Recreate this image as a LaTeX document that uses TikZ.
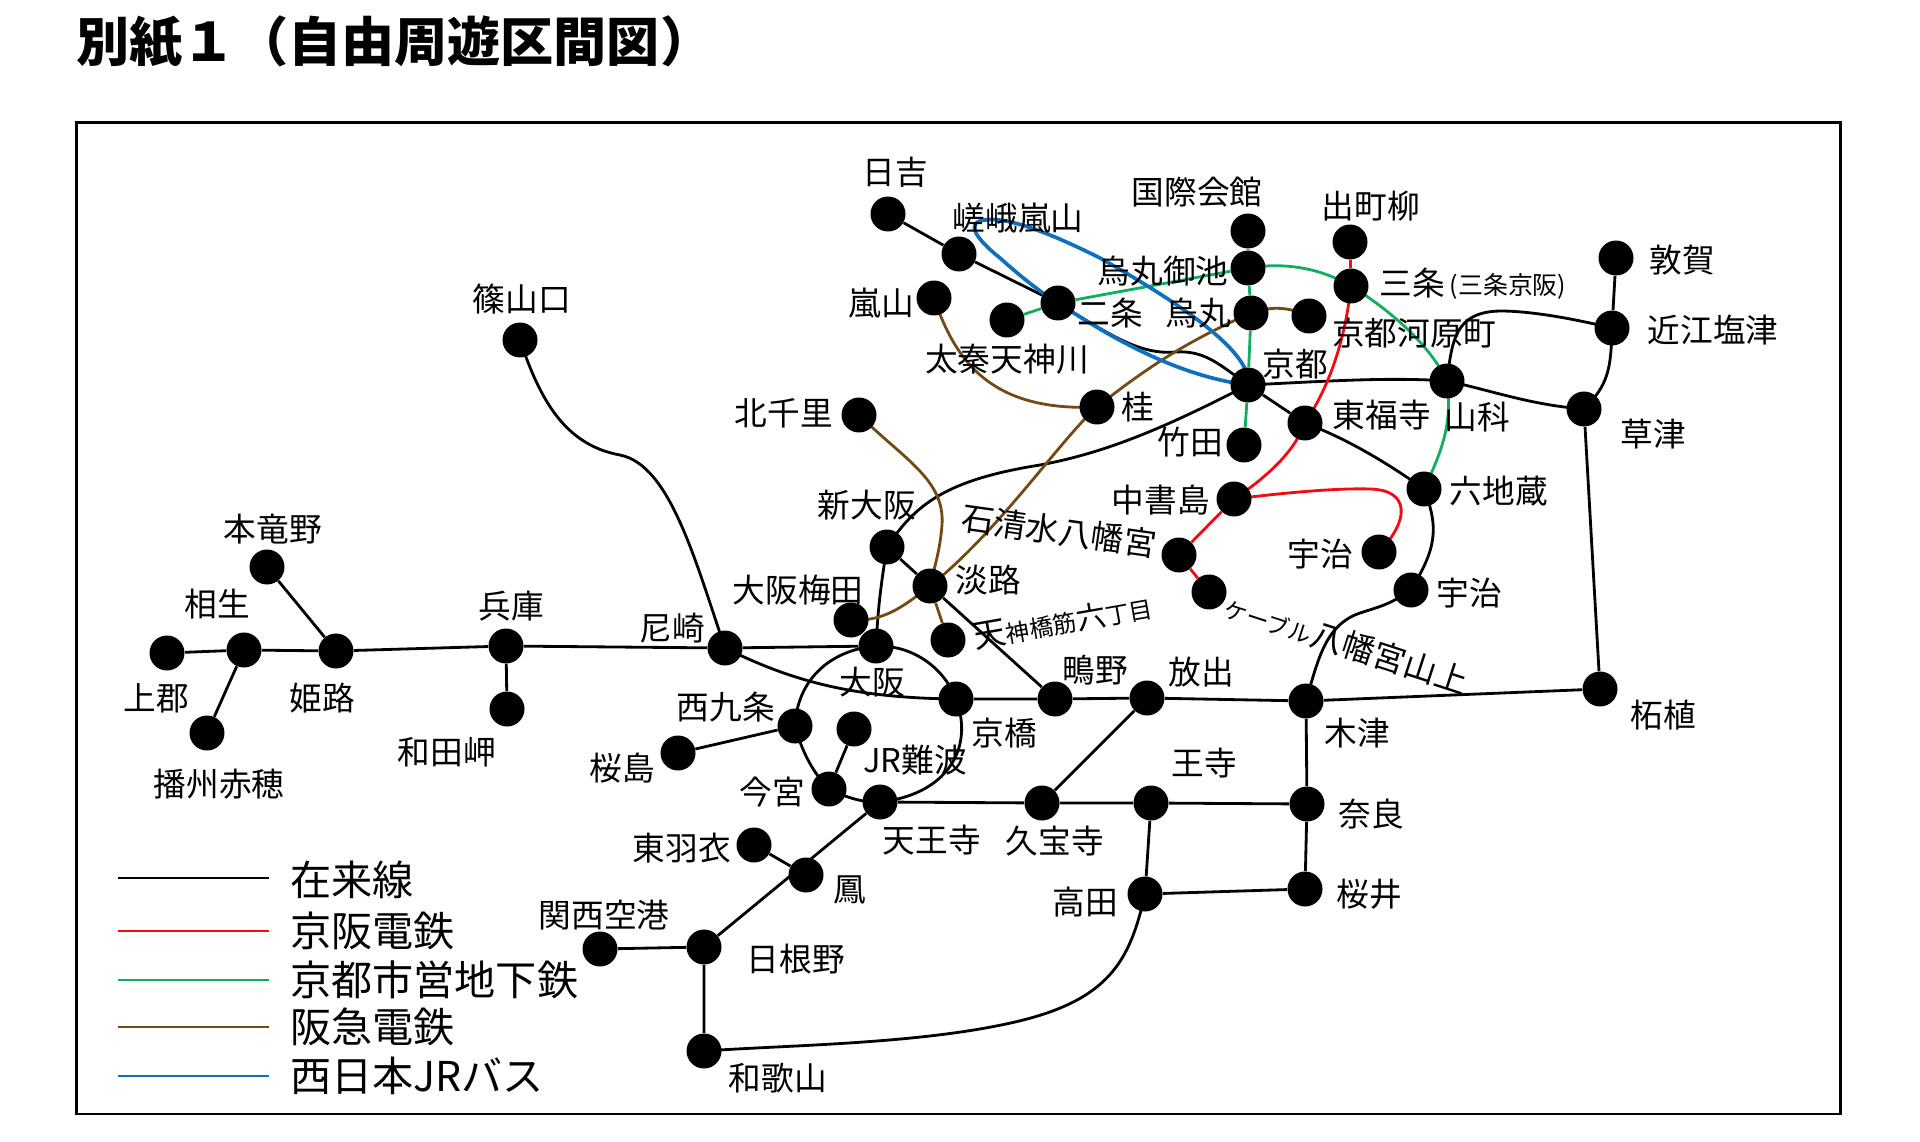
\documentclass[tikz,border=0pt]{standalone}
\usepackage{fontspec}
\setmainfont{Noto Sans CJK JP}
\usetikzlibrary{backgrounds}
\definecolor{kred}{HTML}{F40A14}
\definecolor{kgreen}{HTML}{12AE5E}
\definecolor{hbrown}{HTML}{744A14}
\definecolor{jblue}{HTML}{0F70BE}
\newcommand{\fs}[1]{\fontsize{#1}{#1}\selectfont}
\tikzset{
  st/.style={circle,fill=black,inner sep=0pt,minimum size=0.7cm},
  lb/.style={inner sep=0pt,font=\fs{18.6},text=black},
  lg/.style={inner sep=0pt,anchor=west,font=\fs{23.4},text=black},
  jr/.style={draw=black,line width=1.6pt,line join=round},
  ke/.style={draw=kred,line width=1.6pt,line join=round},
  sub/.style={draw=kgreen,line width=1.6pt,line join=round},
  hk/.style={draw=hbrown,line width=1.6pt,line join=round},
  bus/.style={draw=jblue,line width=2.1pt,line join=round},
  lgl/.style={line width=1.1pt},
}
\begin{document}
\begin{tikzpicture}[x=0.02cm,y=-0.02cm]
\useasboundingbox (0,0) rectangle (1920,1142);
\node[inner sep=0pt,anchor=west,font=\fs{30.2}\bfseries] (title) at (76,42) {別紙１（自由周遊区間図）};
\node[draw=black,line width=1.6pt,inner sep=0pt,minimum width=35.3cm,minimum height=19.84cm] (frame) at (958.5,618) {};
% stations
\foreach \n/\x/\y in {
hiyoshi/888/214,saga/959/254,nijo/1058/303,uzu/1007/320,arashi/934/298,
kokusai/1248/231,oike/1248/268,karasuma/1251/313,kawara/1309/316,kyoto/1248/385,
katsura/1097/407,kita/859/415,takeda/1244/445,tofuku/1305/423,demachi/1350/242,
sanjo/1351/286,yamashina/1447/381,omi/1612/328,tsuruga/1616/258,kusatsu/1584/409,
roku/1424/489,chusho/1234/499,iwashi/1179/555,cable/1209/592,ujik/1379/552,
uji/1411/590,kizu/1306/701,hanaten/1147/698,shinosaka/887/547,awaji/930/586,
umeda/851/620,osaka/876/646,tenroku/948/640,kyobashi/956/699,shigino/1055/699,
amagasaki/725/648,nishikujo/795/726,namba/854/729,sakura/678/753,imamiya/829/789,
tennoji/880/802,higashi/754/845,otori/806/875,hineno/704/947,kanku/600/949,
wakayama/704/1051,kyuhoji/1042/803,oji/1151/803,nara/1307/804,sakurai/1305/889,
takada/1145/894,tsuge/1600/689,hyogo/506/646,wada/507/709,himeji/336/651,
tatsuno/267/567,aioi/244/650,kamigori/167/653,ako/207/733,sasayama/520/340}
  {\node[st] (\n) at (\x,\y) {};}
\begin{scope}[on background layer]
% JR straight
\draw[jr] (hiyoshi)--(saga) (saga)--(nijo) (kyoto)--(tofuku)
 (omi)--(tsuruga) (kusatsu)--(tsuge) (shinosaka)--(awaji) (awaji)--(shigino)
 (amagasaki)--(osaka) (amagasaki)--(hyogo) (hyogo)--(himeji) (himeji)--(aioi) (aioi)--(kamigori)
 (aioi)--(ako) (himeji)--(tatsuno) (hyogo)--(wada) (nishikujo)--(sakura) (imamiya)--(namba)
 (tennoji)--(kyuhoji) (kyuhoji)--(oji) (oji)--(nara) (kyuhoji)--(hanaten)
 (kyobashi)--(shigino) (shigino)--(hanaten) (hanaten)--(kizu) (kizu)--(tsuge)
 (kizu)--(nara) (nara)--(sakurai) (oji)--(takada) (takada)--(sakurai)
 (tennoji)--(hineno) (otori)--(higashi) (hineno)--(wakayama) (hineno)--(kanku);
% JR curves
\draw[jr] (nijo.center) .. controls (1110,335) and (1140,355) .. (1175,352) .. controls (1205,350) and (1220,365) .. (kyoto.center);
\draw[jr] (kyoto.center) .. controls (1330,381) and (1390,377) .. (yamashina.center);
\draw[jr] (yamashina.center) .. controls (1490,390) and (1530,405) .. (kusatsu.center);
\draw[jr] (yamashina.center) .. controls (1452,340) and (1455,312) .. (1500,311) .. controls (1530,311) and (1570,318) .. (omi.center);
\draw[jr] (omi.center) .. controls (1611,370) and (1608,385) .. (kusatsu.center);
\draw[jr] (tofuku.center) .. controls (1350,440) and (1390,465) .. (roku.center);
\draw[jr] (roku.center) .. controls (1440,530) and (1435,550) .. (uji.center);
\draw[jr] (kizu.center) .. controls (1318,660) and (1325,625) .. (1360,613) .. controls (1375,608) and (1390,605) .. (uji.center);
\draw[jr] (shinosaka.center) .. controls (915,505) and (945,480) .. (1040,465) .. controls (1110,452) and (1170,425) .. (kyoto.center);
\draw[jr] (shinosaka.center) .. controls (880,590) and (878,610) .. (osaka.center);
\draw[jr] (sasayama.center) .. controls (540,400) and (565,445) .. (620,455) .. controls (670,465) and (695,560) .. (amagasaki.center);
\draw[jr] (amagasaki.center) .. controls (790,680) and (850,698) .. (kyobashi.center);
\draw[jr] (osaka.center) .. controls (915,645) and (945,670) .. (kyobashi.center);
\draw[jr] (osaka.center) .. controls (830,650) and (797,680) .. (nishikujo.center);
\draw[jr] (nishikujo.center) .. controls (800,745) and (810,770) .. (imamiya.center);
\draw[jr] (imamiya.center) .. controls (845,797) and (863,803) .. (tennoji.center);
\draw[jr] (kyobashi.center) .. controls (975,750) and (945,795) .. (tennoji.center);
\draw[jr] (takada.center) .. controls (1130,960) and (1110,1000) .. (1015,1022) .. controls (920,1044) and (790,1045) .. (wakayama.center);
% Keihan
\draw[ke] (demachi)--(sanjo) (chusho)--(iwashi) (iwashi)--(cable);
\draw[ke] (sanjo.center) .. controls (1345,340) and (1330,385) .. (tofuku.center);
\draw[ke] (tofuku.center) .. controls (1295,450) and (1270,475) .. (chusho.center);
\draw[ke] (chusho.center) .. controls (1290,492) and (1340,488) .. (1370,489) .. controls (1410,490) and (1410,520) .. (ujik.center);
% Subway
\draw[sub] (kokusai)--(oike) (oike)--(karasuma) (karasuma)--(kyoto) (kyoto)--(takeda) (uzu)--(nijo) (nijo)--(oike);
\draw[sub] (oike.center) .. controls (1285,262) and (1320,268) .. (sanjo.center);
\draw[sub] (sanjo.center) .. controls (1390,310) and (1430,345) .. (yamashina.center);
\draw[sub] (yamashina.center) .. controls (1452,420) and (1445,445) .. (roku.center);
% Hankyu
\draw[hk] (karasuma.center) .. controls (1275,305) and (1290,308) .. (kawara.center);
\draw[hk] (karasuma.center) .. controls (1190,340) and (1150,365) .. (katsura.center);
\draw[hk] (katsura.center) .. controls (1060,440) and (1000,530) .. (awaji.center);
\draw[hk] (awaji.center) .. controls (905,605) and (885,622) .. (umeda.center);
\draw[hk] (arashi.center) .. controls (955,360) and (990,412) .. (katsura.center);
\draw[hk] (kita.center) .. controls (905,460) and (945,480) .. (942,525) .. controls (940,550) and (935,565) .. (awaji.center);
\draw[hk] (awaji)--(tenroku);
% Bus
\draw[bus] (kyoto.center) .. controls (1252,360) and (1210,320) .. (1100,258) .. controls (1060,238) and (1010,216) .. (985,220) .. controls (965,222) and (975,238) .. (1000,258) .. controls (1020,276) and (1040,292) .. (nijo.center);
\draw[bus] (nijo.center) .. controls (1100,330) and (1170,375) .. (kyoto.center);
% Legend lines
\coordinate (g1a) at (118,878); \coordinate (g1b) at (269,878);
\coordinate (g2a) at (118,931); \coordinate (g2b) at (269,931);
\coordinate (g3a) at (118,980); \coordinate (g3b) at (269,980);
\coordinate (g4a) at (118,1027); \coordinate (g4b) at (269,1027);
\coordinate (g5a) at (118,1076); \coordinate (g5b) at (269,1076);
\draw[jr,lgl] (g1a)--(g1b);
\draw[ke,lgl] (g2a)--(g2b);
\draw[sub,lgl] (g3a)--(g3b);
\draw[hk,lgl] (g4a)--(g4b);
\draw[bus,lgl] (g5a)--(g5b);
\end{scope}
% labels
\foreach \n/\x/\y/\t in {
l1/895/172/日吉,l2/1018/218/嵯峨嵐山,l3/1197/192/国際会館,l4/1371/206/出町柳,
l5/1163/271/烏丸御池,l6/881/303/嵐山,l7/1110/313/二条,l8/1198/313/烏丸,
l9/1007/359/太秦天神川,l10/1295/364/京都,l11/1138/407/桂,l12/1190/442/竹田,
l13/1412/283/三条,l14/1682/260/敦賀,l15/1713/330/近江塩津,l16/1414/333/京都河原町,
l17/1477/417/山科,l18/1382/415/東福寺,l19/1653/434/草津,l20/1499/491/六地蔵,
l21/784/413/北千里,l22/867/505/新大阪,l23/1161/500/中書島,l24/988/580/淡路,
l25/798/590/大阪梅田,l26/1095/670/鴫野,l27/1201/672/放出,l28/1004/733/京橋,
l29/872/682/大阪,l30/726/707/西九条,l31/622/768/桜島,l32/915/760/JR難波,
l33/772/792/今宮,l34/932/840/天王寺,l35/1055/841/久宝寺,l36/1204/763/王寺,
l37/1371/814/奈良,l38/1369/894/桜井,l39/1085/902/高田,l40/1357/733/木津,
l41/1663/715/柘植,l42/1320/554/宇治,l43/1469/593/宇治,l44/682/848/東羽衣,
l45/850/890/鳳,l46/604/915/関西空港,l47/796/959/日根野,l48/778/1078/和歌山,
l49/672/628/尼崎,l50/511/606/兵庫,l51/447/752/和田岬,l52/322/698/姫路,
l53/217/604/相生,l54/273/529/本竜野,l55/156/698/上郡,l56/219/784/播州赤穂,
l57/522/299/篠山口}
  {\node[lb] (\n) at (\x,\y) {\t};}
\node[lb,font=\fs{14.2}] (l58) at (1508,286) {(三条京阪)};
\node[lb,rotate=-8] (l59) at (1059,531) {石清水八幡宮};
\node[lb,rotate=10] (l60) at (1063,622) {天{\fs{13.5}神橋筋}{\fs{17}六}{\fs{13.5}丁目}};
\node[lb,rotate=-18] (l61) at (1347,644) {{\fs{13}ケーブル}八幡宮山上};
\node[lg] (t1) at (290,880) {在来線};
\node[lg] (t2) at (290,931) {京阪電鉄};
\node[lg] (t3) at (290,980) {京都市営地下鉄};
\node[lg] (t4) at (290,1027) {阪急電鉄};
\node[lg] (t5) at (290,1076) {西日本JRバス};
\end{tikzpicture}
\end{document}
